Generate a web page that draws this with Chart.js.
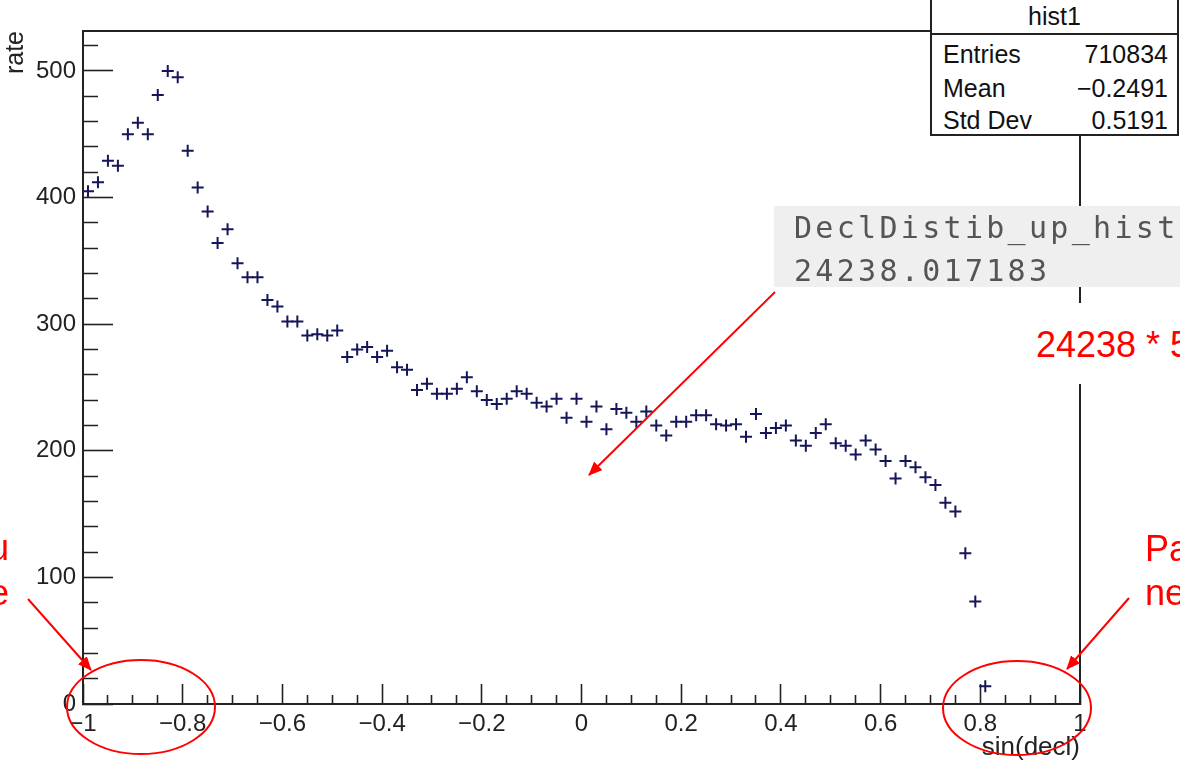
<!DOCTYPE html>
<html><head><meta charset="utf-8">
<script src="https://cdn.jsdelivr.net/npm/chart.js@4"></script>
<style>
html,body{margin:0;padding:0;background:#fff;overflow:hidden}
#wrap{position:relative;width:1180px;height:763px;overflow:hidden;font-family:"Liberation Sans",Arial,sans-serif}
#c{position:absolute;left:0;top:0}
#anno{position:absolute;left:0;top:0;pointer-events:none}
.stats{position:absolute;left:930px;top:-2px;width:245px;height:134px;border:2px solid #222;background:#fff;color:#111;font-size:25px}
.stats .hd{height:33px;line-height:33px;text-align:center;border-bottom:2px solid #222}
.stats .row{position:relative;height:32px;line-height:32px;padding:0 9px 0 11px}
.stats .row span.v{position:absolute;right:9px}
.code{position:absolute;left:774px;top:206px;width:420px;height:81px;background:#efefef;color:#555;
  font-family:"DejaVu Sans Mono",monospace;font-size:30px;letter-spacing:3.3px;line-height:43px;padding-left:20px;box-sizing:border-box;white-space:pre}
.redbox{position:absolute;left:1030px;top:303px;width:200px;height:81px;background:#fff;color:#f00;font-size:36px;line-height:83px;padding-left:6px;white-space:pre}
.redl{position:absolute;left:-200px;top:525px;width:209px;text-align:right;color:#f00;font-size:36px;line-height:45px}
.redr{position:absolute;left:1145px;top:527px;width:200px;color:#f00;font-size:36px;line-height:44px;white-space:pre}
</style></head><body>
<div id="wrap">
<canvas id="c" width="1180" height="763"></canvas>
<div class="stats">
  <div class="hd">hist1</div>
  <div class="row" style="margin-top:3px">Entries<span class="v">710834</span></div>
  <div class="row" style="margin-top:2px">Mean<span class="v">&minus;0.2491</span></div>
  <div class="row">Std Dev<span class="v">0.5191</span></div>
</div>
<div class="code">DeclDistib_up_hist
24238.017183</div>
<div class="redbox">24238 * 5</div>
<div class="redl">u<br>e</div>
<div class="redr">Pa
ne</div>
<svg id="anno" width="1180" height="763">
  <defs>
    <marker id="ah" markerUnits="userSpaceOnUse" markerWidth="14" markerHeight="12" refX="13" refY="6" orient="auto">
      <path d="M0,0 L14,6 L0,12 Z" fill="#f00"/>
    </marker>
  </defs>
  <line x1="775" y1="292" x2="589" y2="475" stroke="#f00" stroke-width="2" marker-end="url(#ah)"/>
  <line x1="28" y1="599" x2="91" y2="670" stroke="#f00" stroke-width="2" marker-end="url(#ah)"/>
  <line x1="1129" y1="598" x2="1067" y2="669" stroke="#f00" stroke-width="2" marker-end="url(#ah)"/>
  <ellipse cx="141" cy="707" rx="74" ry="47" fill="none" stroke="#f00" stroke-width="2"/>
  <ellipse cx="1017" cy="708" rx="74" ry="47" fill="none" stroke="#f00" stroke-width="2"/>
</svg>
</div>
<script>
// histogram definition
const xMin = -1, xMax = 1, binWidth = 0.02;
// bin contents (rate), bins from -1 upward; bins beyond are empty
const rate = [
 405,412,429,425,450,459,450,481,500,495,
 437,408,389,364,375,348,337,337,319,314,
 302,302,291,292,291,295,274,280,282,274,
 279,266,264,248,253,245,245,249,258,247,
 240,237,241,247,245,238,235,241,226,241,
 223,235,217,233,230,223,231,220,212,223,
 223,228,228,221,220,221,211,229,214,218,
 220,208,204,214,221,206,204,197,208,201,
 192,178,192,187,179,173,159,152,119,81,
 14
];
const xMajorTicks = [-1,-0.8,-0.6,-0.4,-0.2,0,0.2,0.4,0.6,0.8,1];
const yMajorTicks = [0,100,200,300,400,500];
const yMax = 531.5;

const points = rate.map((v,i)=>({x: xMin + binWidth*(i+0.5), y: v}));

function isMajor(v, list){ return list.some(t=>Math.abs(t-v)<1e-6); }
function fmt(v){ const r = Math.round(v*10)/10; return r<0 ? '\u2212'+String(-r) : String(r); }

const framePlugin = {
  id:'frame',
  afterDatasetsDraw(chart){
    const {ctx, chartArea:a} = chart;
    ctx.save(); ctx.strokeStyle='#222'; ctx.lineWidth=2;
    ctx.strokeRect(a.left, a.top, a.right-a.left, a.bottom-a.top);
    ctx.restore();
  }
};

const tickFont = {family:'"Liberation Sans", Arial, sans-serif', size:24};
new Chart(document.getElementById('c'), {
  type:'scatter',
  data:{datasets:[{
    data: points,
    pointStyle:'cross', pointRadius:6, pointHoverRadius:6,
    borderColor:'#15155a', backgroundColor:'#15155a', borderWidth:2,
    showLine:false
  }]},
  options:{
    responsive:false, animation:false,
    layout:{padding:{left:0, top:31, right:100, bottom:0}},
    plugins:{legend:{display:false}, tooltip:{enabled:false}},
    scales:{
      x:{
        type:'linear', position:'bottom', min:xMin, max:xMax,
        border:{display:true, color:'#222', width:2},
        grid:{drawOnChartArea:false, drawTicks:true, tickLength:-20, tickWidth:1.6, tickColor:'#222',
          tickBorderDash:(ctx)=> isMajor(ctx.tick.value, xMajorTicks) ? [] : [10,100]},
        ticks:{stepSize:0.05, autoSkip:false, maxRotation:0, minRotation:0, includeBounds:false,
          padding:26, color:'#222', font:tickFont,
          callback:(v)=> isMajor(v, xMajorTicks) ? fmt(v) : ''},
        title:{display:true, text:'sin(decl)', align:'end', color:'#222', font:{family:'"Liberation Sans", Arial, sans-serif', size:26}, padding:{top:0,bottom:0}},
        afterFit:(s)=>{ s.height = 59; s.paddingLeft = 0; s.paddingRight = 0; }
      },
      y:{
        type:'linear', position:'left', min:0, max:yMax,
        border:{display:true, color:'#222', width:2},
        grid:{drawOnChartArea:false, drawTicks:true, tickLength:-30, tickWidth:1.6, tickColor:'#222',
          tickBorderDash:(ctx)=> isMajor(ctx.tick.value, yMajorTicks) ? [] : [0,15,15,100]},
        ticks:{stepSize:20, autoSkip:false, includeBounds:false, padding:37, color:'#222', font:tickFont,
          callback:(v)=> isMajor(v, yMajorTicks) ? String(v) : ''},
        title:{display:true, text:'rate', align:'end', color:'#222', font:{family:'"Liberation Sans", Arial, sans-serif', size:25}, padding:{top:1,bottom:0}},
        afterFit:(s)=>{ s.width = 83; s.paddingTop = 0; s.paddingBottom = 0; }
      }
    }
  },
  plugins:[framePlugin]
});
</script>
</body></html>
